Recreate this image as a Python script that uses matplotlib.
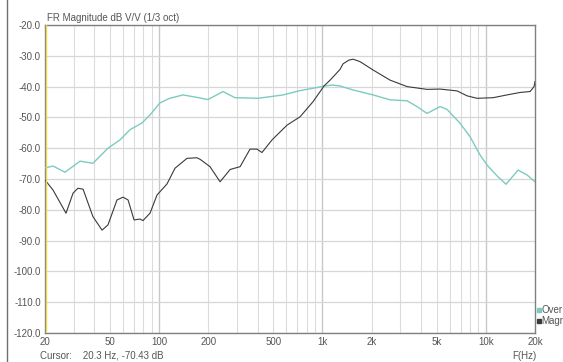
import numpy as np
import matplotlib.pyplot as plt
from matplotlib.ticker import FixedLocator, NullFormatter

plt.rcParams['font.family'] = ['Liberation Sans', 'DejaVu Sans']

# 1/3 octave smoothed magnitude, two traces
over_freq = [20, 22.4, 26.5, 32.8, 39.3, 48.6, 57.6, 66.3, 78.5, 87.9, 101,
             116, 140, 170, 199, 246, 291, 403, 574, 729, 926, 1022, 1150,
             1281, 1539, 2039, 2593, 3295, 3793, 4366, 5248, 5790, 6957,
             8010, 9220, 10180, 11720, 13300, 15760, 17890, 20000]
over_db = [-66.4, -65.8, -67.8, -64.2, -64.9, -60.0, -57.3, -54.0, -51.8,
           -49.2, -45.3, -43.8, -42.7, -43.5, -44.2, -41.6, -43.6, -43.8,
           -42.7, -41.3, -40.3, -39.8, -39.5, -39.8, -41.1, -42.7, -44.3,
           -44.6, -46.5, -48.7, -46.5, -47.4, -51.9, -56.3, -62.2, -65.5,
           -69.0, -71.7, -67.1, -68.7, -70.9]

magr_freq = [20, 22.4, 26.9, 29.7, 31.8, 34.2, 39.3, 44.7, 48.6, 55.2, 60.1,
             64.5, 70.2, 76.3, 79.6, 87.9, 97, 111.7, 125, 148, 170, 178, 199,
             204.8, 236, 272, 313, 360, 397, 426, 491, 607, 729, 875, 1022,
             1113, 1281, 1336, 1450, 1539, 1698, 2039, 2593, 3295, 4366, 5248,
             6670, 7679, 8838, 11080, 13490, 16210, 18660, 19730, 20000]
magr_db = [-70.3, -73.6, -81.1, -74.6, -73.0, -73.3, -82.2, -86.6, -84.9,
           -76.8, -75.9, -76.8, -83.3, -83.0, -83.5, -81.1, -75.2, -71.6,
           -66.5, -63.3, -63.1, -63.6, -65.5, -66.0, -70.9, -66.9, -66.0,
           -60.3, -60.3, -61.4, -57.3, -52.5, -49.8, -44.9, -39.8, -37.9,
           -34.4, -32.6, -31.4, -31.1, -31.9, -34.6, -37.9, -40.0, -40.9,
           -40.8, -41.4, -43.0, -43.8, -43.6, -42.7, -41.9, -41.6, -40.0,
           -38.4]

xticks = [20, 50, 100, 200, 500, 1000, 2000, 5000, 10000, 20000]
xlabels = ['20', '50', '100', '200', '500', '1k', '2k', '5k', '10k', '20k']
yticks = np.arange(-120, -10, 10)

teal = '#7ccbbf'
dark = '#3a3a3a'
txt = '#555555'

fig = plt.figure(figsize=(5.63, 3.62), dpi=100)
ax = fig.add_axes([45 / 563, 29 / 362, 490 / 563, 308 / 362])

grid_x = [f * m for m in (10, 100, 1000) for f in range(2, 10)] + [20, 30, 40, 50, 60, 70, 80, 90]
grid_x = sorted(set(g for g in grid_x if 20 <= g <= 20000))
for g in grid_x:
    ax.axvline(g, color='#dcdcdc', lw=0.8, zorder=0)
for g in (100, 1000, 10000):
    ax.axvline(g, color='#c8c8c8', lw=1.0, zorder=0)
for y in yticks:
    ax.axhline(y, color='#d6d6d6', lw=0.9, zorder=0)

ax.plot(over_freq, over_db, color=teal, lw=1.0, zorder=3)
ax.plot(magr_freq, magr_db, color=dark, lw=0.8, zorder=4)
ax.axvline(20.3, color='#e8d84a', lw=1.0, zorder=5)

ax.set_xscale('log')
ax.set_xlim(20, 20000)
ax.set_ylim(-120, -20)
ax.xaxis.set_major_locator(FixedLocator(xticks))
ax.xaxis.set_minor_formatter(NullFormatter())
ax.xaxis.set_minor_locator(FixedLocator([]))
ax.set_xticklabels(xlabels)
ax.set_yticks(yticks)
ax.set_yticklabels([f'{v:.1f}' for v in yticks])
ax.tick_params(length=0, labelsize=7, colors=txt, pad=3)
for s in ax.spines.values():
    s.set_color('#808080')
    s.set_linewidth(1.0)

fig.text(47 / 563, 1 - 18 / 362, 'FR Magnitude dB V/V (1/3 oct)', fontsize=7,
         color=txt, va='center')
fig.text(40 / 563, 1 - 356 / 362, 'Cursor:    20.3 Hz, -70.43 dB', fontsize=7,
         color=txt, va='center')
fig.text(512 / 563, 1 - 356 / 362, 'F(Hz)', fontsize=7, color=txt, va='center')

# small legend at the right edge
for yy, col, name in ((310, teal, 'Over'), (321, dark, 'Magr')):
    fig.add_artist(plt.Line2D([539 / 563], [1 - yy / 362], marker='s',
                              markersize=2.2, color=col, lw=0))
    fig.text(541 / 563, 1 - yy / 362, name, fontsize=7, color=txt, va='center')

# window frame edge on the left
fig.add_artist(plt.Line2D([7 / 563, 7 / 563], [0, 1], color='#707070', lw=1.0))

fig.savefig('out.png', dpi=100)
